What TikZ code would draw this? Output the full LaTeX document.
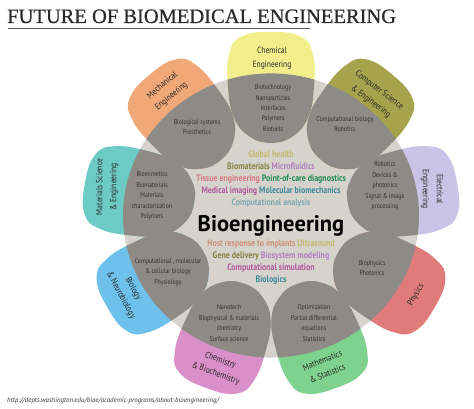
\documentclass[tikz,border=0pt]{standalone}
\usepackage{fontspec}
\setmainfont{PT Sans}
\newfontfamily\condfont[FakeStretch=0.84]{PT Sans}
\newfontfamily\titlefont[FakeBold=0.6]{Liberation Serif}
\usetikzlibrary{positioning}
\definecolor{RingGray}{HTML}{D6D3CD}
\definecolor{OverlapGray}{HTML}{8E8B86}
\definecolor{ChemYellow}{HTML}{F2EE8C}
\definecolor{CsOlive}{HTML}{A6A34C}
\definecolor{EeLavender}{HTML}{C9C3E5}
\definecolor{PhysRed}{HTML}{E07B7B}
\definecolor{MathGreen}{HTML}{7FD28D}
\definecolor{ChemPink}{HTML}{D98FC8}
\definecolor{BioBlue}{HTML}{6EC1EA}
\definecolor{MatTeal}{HTML}{6DCBC5}
\definecolor{MechOrange}{HTML}{F0A878}
\definecolor{InkDark}{HTML}{2A2A28}
\definecolor{InkGray}{HTML}{35332F}
\definecolor{Khaki}{HTML}{C2B96A}
\definecolor{DarkOlive}{HTML}{878240}
\definecolor{Lilac}{HTML}{B47FC0}
\definecolor{Salmon}{HTML}{D7787F}
\definecolor{PocGreen}{HTML}{1E8A50}
\definecolor{Magenta}{HTML}{B0589E}
\definecolor{TealBlue}{HTML}{3F8B9A}
\definecolor{LightTeal}{HTML}{7FAAB0}
\definecolor{HostTan}{HTML}{D0907A}
\tikzset{
  petal/.pic={\path[pic actions] plot[smooth cycle,tension=0.75] coordinates
    {(0,55) (30,50) (42,32) (43,0) (37,-31) (21,-50) (0,-56) (-21,-50)
     (-37,-31) (-43,0) (-42,32) (-30,50)};}
}

\begin{document}
\begin{tikzpicture}[x=1pt,y=1pt,
    field/.style={font=\condfont\fontsize{9}{14}\selectfont,align=center,
                  text=InkDark,inner sep=0pt},
    topics/.style={font=\condfont\fontsize{7}{10.4}\selectfont,align=center,
                   text=InkGray,inner sep=0pt},
    hot/.style={font=\condfont\bfseries\fontsize{9.4}{12}\selectfont,align=center,
                inner sep=0pt},
  ]
  \useasboundingbox (0,0) rectangle (474,409);

  % title
  \node[anchor=base west,inner sep=0pt,text=InkDark,
        font=\titlefont\fontsize{20.5}{20.5}\selectfont]
       (title) at (7,386) {FUTURE OF BIOMEDICAL ENGINEERING};
  \draw[gray!70!black,line width=1.3pt] (title.base west) ++(1,-5.5) coordinate (ul) -- ++(302,0);

  % ring and petals
  \begin{scope}[shift={(271,193.5)},yscale=0.96]
    \fill[RingGray] (0,0) circle (148);
    \pic[fill=ChemYellow,rotate=0]     at (90:134)   {petal};
    \pic[fill=CsOlive,rotate=-40]      at (50:134)   {petal};
    \pic[fill=EeLavender,rotate=-80]   at (10:134)   {petal};
    \pic[fill=PhysRed,rotate=-120]     at (-30:134)  {petal};
    \pic[fill=MathGreen,rotate=-160]   at (-70:134)  {petal};
    \pic[fill=ChemPink,rotate=160]     at (-110:134) {petal};
    \pic[fill=BioBlue,rotate=120]      at (-150:134) {petal};
    \pic[fill=MatTeal,rotate=80]       at (170:134)  {petal};
    \pic[fill=MechOrange,rotate=40]    at (130:134)  {petal};
    \begin{scope}
      \clip (0,0) circle (148);
      \pic[fill=OverlapGray,rotate=0]    at (90:134)   {petal};
      \pic[fill=OverlapGray,rotate=-40]  at (50:134)   {petal};
      \pic[fill=OverlapGray,rotate=-80]  at (10:134)   {petal};
      \pic[fill=OverlapGray,rotate=-120] at (-30:134)  {petal};
      \pic[fill=OverlapGray,rotate=-160] at (-70:134)  {petal};
      \pic[fill=OverlapGray,rotate=160]  at (-110:134) {petal};
      \pic[fill=OverlapGray,rotate=120]  at (-150:134) {petal};
      \pic[fill=OverlapGray,rotate=80]   at (170:134)  {petal};
      \pic[fill=OverlapGray,rotate=40]   at (130:134)  {petal};
    \end{scope}
  \end{scope}

  % field names
  \node[field]              (chem)  at (272,351) {Chemical\\Engineering};
  \node[field,rotate=-37]   (cs)    at (375,313) {Computer Science\\\& Engineering};
  \node[field,rotate=-90]   (ee)    at (432,220) {Electrical\\Engineering};
  \node[field,rotate=60]    (phys)  at (416,114) {Physics};
  \node[field,rotate=22]    (math)  at (325,42)  {Mathematics\\\& Statistics};
  \node[field,rotate=-20]   (chemb) at (218,42)  {Chemistry\\\& Biochemistry};
  \node[field,rotate=-62]   (bio)   at (127,117) {Biology\\\& Neurobiology};
  \node[field,rotate=90]    (mat)   at (107,222) {Materials Science\\\& Engineering};
  \node[field,rotate=40]    (mech)  at (167,318) {Mechanical\\Engineering};

  % overlap topics
  \node[topics] (chemtop)  at (273,301) {Biotechnology\\Nanoparticles\\Interfaces\\Polymers\\Biofuels};
  \node[topics] (cstop)    at (345,285) {Computational biology\\Robotics};
  \node[topics] (eetop)    at (385,223) {Robotics\\Devices \&\\photonics\\Signal \& image\\processing};
  \node[topics] (phystop)  at (372,141) {Biophysics\\Photonics};
  \node[topics] (mathtop)  at (314,86)  {Optimization\\Partial differential\\equations\\Statistics};
  \node[topics] (chembtop) at (229,86)  {Nanotech\\Biophysical \& materials\\chemistry\\Surface science};
  \node[topics] (biotop)   at (168,137) {Computational , molecular\\\& cellular biology\\Physiology};
  \node[topics] (mattop)   at (152,213) {Biomimetics\\Biomaterials\\Materials\\characterization\\Polymers};
  \node[topics] (mechtop)  at (197,282) {Biological systems\\Prosthetics};

  % centre
  \node[anchor=base,inner sep=0pt,text=black,font=\bfseries\fontsize{22.5}{22.5}\selectfont]
       (bioeng) at (271,177) {Bioengineering};
  \node[hot] (upper) at (271,230)
       {\textcolor{Khaki}{Global health}\\
        \textcolor{DarkOlive}{Biomaterials} \textcolor{Lilac}{Microfluidics}\\
        \textcolor{Salmon}{Tissue engineering} \textcolor{PocGreen}{Point-of-care diagnostics}\\
        \textcolor{Magenta}{Medical imaging} \textcolor{TealBlue}{Molecular biomechanics}\\
        \textcolor{LightTeal}{Computational analysis}};
  \node[hot] (lower) at (271,146.5)
       {\textcolor{HostTan}{Host response to implants} \textcolor{Khaki}{Ultrasound}\\
        \textcolor{DarkOlive}{Gene delivery} \textcolor{Lilac}{Biosystem modeling}\\
        \textcolor{Magenta}{Computational simulation}\\
        \textcolor{TealBlue}{Biologics}};

  % source
  \node[anchor=west,inner sep=0pt,text=InkGray,font=\itshape\fontsize{6.8}{7}\selectfont]
       (src) at (7,8) {http://depts.washington.edu/bioe/academic-programs/about-bioengineering/};
\end{tikzpicture}
\end{document}
